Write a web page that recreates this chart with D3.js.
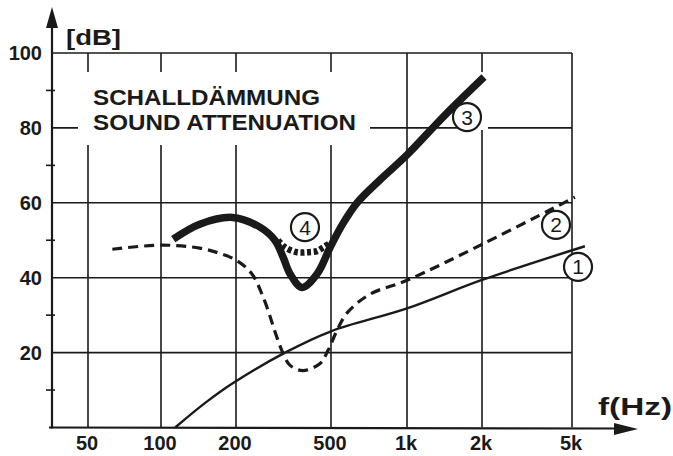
<!DOCTYPE html>
<html>
<head>
<meta charset="utf-8">
<script src="https://cdn.jsdelivr.net/npm/d3@7"></script>
<style>
  html, body { margin: 0; padding: 0; background: #fff; }
  text { font-family: "Liberation Sans", Arial, sans-serif; fill: #1a1a1a; }
</style>
</head>
<body>
<svg class="chart-img"></svg>
<script>
// frequency ticks (Hz) and their labels
const freqTicks = [50, 100, 200, 500, 1000, 2000, 5000];
const freqLabels = ['50', '100', '200', '500', '1k', '2k', '5k'];
const dbTicks = [20, 40, 60, 80, 100];
const dbMinorTicks = [10, 30, 50, 70, 90];

// curves: [Hz, dB]
const curve1 = [[114, 0], [150, 6.5], [194, 11.8], [321, 20], [500, 25.7],
    [1000, 31.8], [2000, 39.4], [5700, 48.4]];
const curve2 = [[63, 47.6], [100, 48.7], [143, 47.9], [172, 46.5], [200, 44.7],
    [232, 41.2], [260, 34.8], [297, 24], [315, 19.8], [337, 16.6], [381, 15.2],
    [450, 17.1], [486, 20.6], [528, 25.9], [579, 30.6], [714, 35.6],
    [1000, 39.3], [2000, 48.9], [5150, 61.5]];
const curve3 = [[112, 50.3], [143, 54.3], [194, 56.1], [252, 53.5], [291, 50],
    [315, 45.5], [337, 41], [378, 37.4], [437, 41], [495, 48], [558, 54.5],
    [634, 60], [781, 66.1], [1000, 72.8], [1414, 83.3], [2041, 93.6]];
const curve4 = [[300, 50], [321, 48.1], [360, 46.8], [397, 46.8], [437, 47.1],
    [462, 48], [495, 49.2]];

// circled labels: [number, Hz, dB]
const curveLabels = [['1', 5316, 42.9], ['2', 4248, 54.1], ['3', 1741, 82.9], ['4', 389, 53.5]];

const width = 673, height = 456;
const plotLeft = 52, inkColor = '#1a1a1a';

const svg = d3.select('.chart-img')
    .attr('width', width)
    .attr('height', height);

// piecewise log scale, the printed grid is not quite regular
const xScale = d3.scaleLog().domain(freqTicks)
    .range([88, 161, 236, 331, 407, 482, 572]);
const yScale = d3.scaleLinear().domain([0, 100]).range([427.5, 53]);
const plotRight = xScale(5000);

// grid
const grid = svg.append('g').attr('stroke', inkColor).attr('stroke-width', 1.6);
grid.selectAll('.vgrid')
    .data(freqTicks)
    .enter()
    .append('line')
    .attr('x1', d => xScale(d)).attr('x2', d => xScale(d))
    .attr('y1', yScale(0)).attr('y2', yScale(100));
grid.selectAll('.hgrid')
    .data(dbTicks)
    .enter()
    .append('line')
    .attr('x1', plotLeft).attr('x2', plotRight)
    .attr('y1', d => yScale(d)).attr('y2', d => yScale(d));

// white areas cut out of the grid (title block, label 3)
svg.append('rect').attr('x', 78).attr('y', 72).attr('width', 292).attr('height', 73)
    .attr('fill', '#fff');
svg.append('rect').attr('x', 476).attr('y', 72).attr('width', 12).attr('height', 58)
    .attr('fill', '#fff');

// axes with arrows
const axes = svg.append('g').attr('stroke', inkColor).attr('stroke-width', 2.2);
axes.append('line').attr('x1', plotLeft).attr('x2', plotLeft)
    .attr('y1', yScale(0) + 1).attr('y2', 22);
axes.append('line').attr('x1', plotLeft - 3).attr('x2', 622)
    .attr('y1', yScale(0)).attr('y2', yScale(0) + 1);
svg.append('path').attr('fill', inkColor)
    .attr('d', `M${plotLeft},7 L${plotLeft - 6},28 L${plotLeft + 6},28 Z`);
svg.append('path').attr('fill', inkColor)
    .attr('d', `M638,429 L614,423 L614,435 Z`);

axes.selectAll('.minor')
    .data(dbMinorTicks)
    .enter()
    .append('line')
    .attr('stroke-width', 1.6)
    .attr('x1', plotLeft - 6).attr('x2', plotLeft + 3)
    .attr('y1', d => yScale(d)).attr('y2', d => yScale(d));

// tick labels
svg.selectAll('.ylab')
    .data(dbTicks)
    .enter()
    .append('text')
    .attr('x', 42)
    .attr('y', d => yScale(d))
    .attr('dy', '0.36em')
    .attr('text-anchor', 'end')
    .style('font-size', '20px')
    .style('font-weight', 'bold')
    .text(d => d);

svg.selectAll('.xlab')
    .data(freqTicks)
    .enter()
    .append('text')
    .attr('x', d => xScale(d) - 1)
    .attr('y', 450)
    .attr('text-anchor', 'middle')
    .style('font-size', '20px')
    .style('font-weight', 'bold')
    .text((d, i) => freqLabels[i]);

// curves
const line = d3.line()
    .x(d => xScale(d[0]))
    .y(d => yScale(d[1]))
    .curve(d3.curveCatmullRom.alpha(0.5));

svg.append('path').datum(curve1)
    .attr('d', line).attr('fill', 'none')
    .attr('stroke', inkColor).attr('stroke-width', 2.4);
svg.append('path').datum(curve2)
    .attr('d', line).attr('fill', 'none')
    .attr('stroke', inkColor).attr('stroke-width', 3.2)
    .attr('stroke-dasharray', '10,6');
svg.append('path').datum(curve4)
    .attr('d', line).attr('fill', 'none')
    .attr('stroke', inkColor).attr('stroke-width', 6.5)
    .attr('stroke-dasharray', '4,2.6');
svg.append('path').datum(curve3)
    .attr('d', line).attr('fill', 'none')
    .attr('stroke', inkColor).attr('stroke-width', 7.5);

// circled curve numbers
const labels = svg.selectAll('.curve-label')
    .data(curveLabels)
    .enter()
    .append('g')
    .attr('transform', d => `translate(${xScale(d[1])},${yScale(d[2])})`);
labels.append('circle').attr('r', 14)
    .attr('fill', '#fff').attr('stroke', inkColor).attr('stroke-width', 2.2);
labels.append('text')
    .attr('text-anchor', 'middle')
    .attr('dy', '0.36em')
    .style('font-size', '21px')
    .text(d => d[0]);

// titles
svg.append('text').attr('x', 66).attr('y', 45)
    .attr('textLength', 55).attr('lengthAdjust', 'spacingAndGlyphs')
    .style('font-size', '22px').style('font-weight', 'bold')
    .text('[dB]');
svg.append('text').attr('x', 93).attr('y', 105)
    .attr('textLength', 227).attr('lengthAdjust', 'spacingAndGlyphs')
    .style('font-size', '22px').style('font-weight', 'bold')
    .text('SCHALLDÄMMUNG');
svg.append('text').attr('x', 93).attr('y', 130)
    .attr('textLength', 263).attr('lengthAdjust', 'spacingAndGlyphs')
    .style('font-size', '22px').style('font-weight', 'bold')
    .text('SOUND ATTENUATION');
svg.append('text').attr('x', 598).attr('y', 415)
    .attr('textLength', 74).attr('lengthAdjust', 'spacingAndGlyphs')
    .style('font-size', '23px').style('font-weight', 'bold')
    .text('f(Hz)');
</script>
</body>
</html>
